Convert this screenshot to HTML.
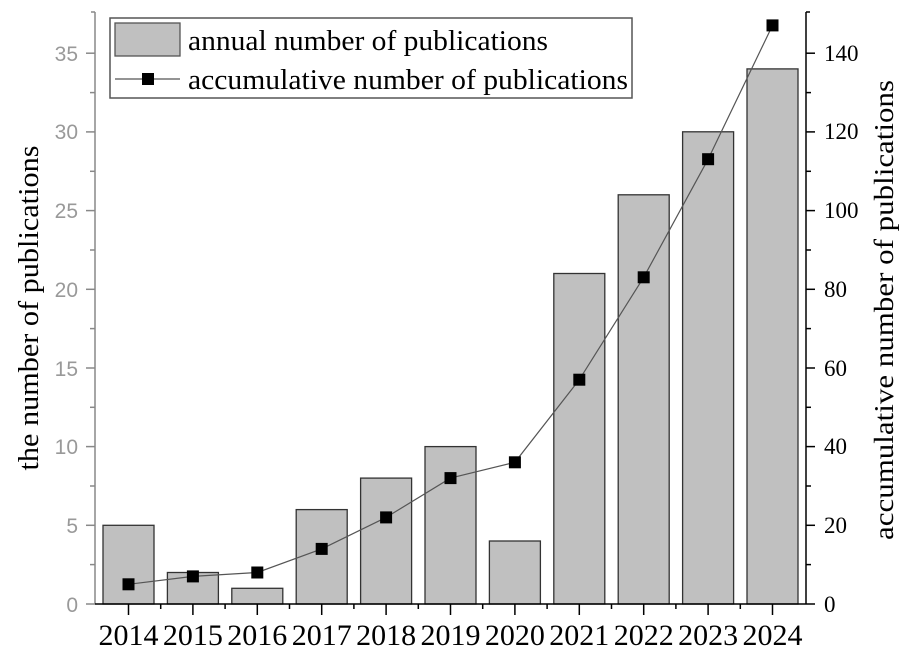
<!DOCTYPE html>
<html><head><style>body{margin:0;background:#fff}svg{display:block}</style></head><body>
<svg width="907" height="658" xmlns="http://www.w3.org/2000/svg">
<rect width="907" height="658" fill="#fff"/>
<g fill="#c0c0c0" stroke="#333" stroke-width="1.3">
<rect x="103" y="525.3" width="51" height="78.7"/>
<rect x="167.4" y="572.5" width="51" height="31.5"/>
<rect x="231.8" y="588.3" width="51" height="15.7"/>
<rect x="296.2" y="509.6" width="51" height="94.4"/>
<rect x="360.6" y="478.1" width="51" height="125.9"/>
<rect x="425" y="446.6" width="51" height="157.4"/>
<rect x="489.4" y="541" width="51" height="63"/>
<rect x="553.8" y="273.5" width="51" height="330.5"/>
<rect x="618.2" y="194.8" width="51" height="409.2"/>
<rect x="682.6" y="131.8" width="51" height="472.2"/>
<rect x="747" y="68.9" width="51" height="535.1"/>
</g>
<polyline fill="none" stroke="#555" stroke-width="1.2" points="128.5,584.3 192.9,576.4 257.3,572.5 321.7,548.9 386.1,517.4 450.5,478.1 514.9,462.3 579.3,379.7 643.7,277.3 708.1,159.2 772.5,25.4"/>
<g fill="#000">
<rect x="122.5" y="578.3" width="12" height="12"/><rect x="186.9" y="570.4" width="12" height="12"/><rect x="251.3" y="566.5" width="12" height="12"/><rect x="315.7" y="542.9" width="12" height="12"/><rect x="380.1" y="511.4" width="12" height="12"/><rect x="444.5" y="472.1" width="12" height="12"/><rect x="508.9" y="456.3" width="12" height="12"/><rect x="573.3" y="373.7" width="12" height="12"/><rect x="637.7" y="271.3" width="12" height="12"/><rect x="702.1" y="153.2" width="12" height="12"/><rect x="766.5" y="19.4" width="12" height="12"/>
</g>
<g stroke="#888" stroke-width="1.5">
<line x1="95" y1="12" x2="95" y2="604"/><line x1="91" y1="12" x2="95" y2="12"/>
<line x1="86" y1="604" x2="95" y2="604"/><line x1="86" y1="525.3" x2="95" y2="525.3"/><line x1="86" y1="446.6" x2="95" y2="446.6"/><line x1="86" y1="368" x2="95" y2="368"/><line x1="86" y1="289.3" x2="95" y2="289.3"/><line x1="86" y1="210.6" x2="95" y2="210.6"/><line x1="86" y1="131.9" x2="95" y2="131.9"/><line x1="86" y1="53.2" x2="95" y2="53.2"/>
<line x1="90" y1="564.6" x2="95" y2="564.6"/><line x1="90" y1="486" x2="95" y2="486"/><line x1="90" y1="407.3" x2="95" y2="407.3"/><line x1="90" y1="328.6" x2="95" y2="328.6"/><line x1="90" y1="250" x2="95" y2="250"/><line x1="90" y1="171.3" x2="95" y2="171.3"/><line x1="90" y1="92.6" x2="95" y2="92.6"/>
</g>
<g fill="#999" font-family="Liberation Sans, sans-serif" font-size="21" text-anchor="end">
<text x="78" y="612">0</text><text x="78" y="533">5</text><text x="78" y="454">10</text><text x="78" y="376">15</text><text x="78" y="297">20</text><text x="78" y="218">25</text><text x="78" y="139">30</text><text x="78" y="61">35</text>
</g>
<g stroke="#000" stroke-width="1.5">
<line x1="806" y1="12" x2="806" y2="604"/><line x1="806" y1="12" x2="810" y2="12"/>
<line x1="806" y1="604" x2="815" y2="604"/><line x1="806" y1="525.3" x2="815" y2="525.3"/><line x1="806" y1="446.6" x2="815" y2="446.6"/><line x1="806" y1="368" x2="815" y2="368"/><line x1="806" y1="289.3" x2="815" y2="289.3"/><line x1="806" y1="210.6" x2="815" y2="210.6"/><line x1="806" y1="131.9" x2="815" y2="131.9"/><line x1="806" y1="53.2" x2="815" y2="53.2"/>
<line x1="806" y1="564.6" x2="811" y2="564.6"/><line x1="806" y1="486" x2="811" y2="486"/><line x1="806" y1="407.3" x2="811" y2="407.3"/><line x1="806" y1="328.6" x2="811" y2="328.6"/><line x1="806" y1="250" x2="811" y2="250"/><line x1="806" y1="171.3" x2="811" y2="171.3"/><line x1="806" y1="92.6" x2="811" y2="92.6"/>
</g>
<g fill="#000" font-family="Liberation Serif, serif" font-size="23">
<text x="824" y="612">0</text><text x="824" y="533">20</text><text x="824" y="454">40</text><text x="824" y="376">60</text><text x="824" y="297">80</text><text x="824" y="218">100</text><text x="824" y="139">120</text><text x="824" y="61">140</text>
</g>
<g stroke="#000" stroke-width="1.5">
<line x1="95" y1="604" x2="806" y2="604"/>
<line x1="128.5" y1="604" x2="128.5" y2="615"/><line x1="192.9" y1="604" x2="192.9" y2="615"/><line x1="257.3" y1="604" x2="257.3" y2="615"/><line x1="321.7" y1="604" x2="321.7" y2="615"/><line x1="386.1" y1="604" x2="386.1" y2="615"/><line x1="450.5" y1="604" x2="450.5" y2="615"/><line x1="514.9" y1="604" x2="514.9" y2="615"/><line x1="579.3" y1="604" x2="579.3" y2="615"/><line x1="643.7" y1="604" x2="643.7" y2="615"/><line x1="708.1" y1="604" x2="708.1" y2="615"/><line x1="772.5" y1="604" x2="772.5" y2="615"/>
<line x1="160.7" y1="604" x2="160.7" y2="609"/><line x1="225.1" y1="604" x2="225.1" y2="609"/><line x1="289.5" y1="604" x2="289.5" y2="609"/><line x1="353.9" y1="604" x2="353.9" y2="609"/><line x1="418.3" y1="604" x2="418.3" y2="609"/><line x1="482.7" y1="604" x2="482.7" y2="609"/><line x1="547.1" y1="604" x2="547.1" y2="609"/><line x1="611.5" y1="604" x2="611.5" y2="609"/><line x1="675.9" y1="604" x2="675.9" y2="609"/><line x1="740.3" y1="604" x2="740.3" y2="609"/>
</g>
<g fill="#000" font-family="Liberation Serif, serif" font-size="30" text-anchor="middle">
<text x="128.5" y="645">2014</text><text x="192.9" y="645">2015</text><text x="257.3" y="645">2016</text><text x="321.7" y="645">2017</text><text x="386.1" y="645">2018</text><text x="450.5" y="645">2019</text><text x="514.9" y="645">2020</text><text x="579.3" y="645">2021</text><text x="643.7" y="645">2022</text><text x="708.1" y="645">2023</text><text x="772.5" y="645">2024</text>
</g>
<text transform="translate(38,308) rotate(-90)" font-family="Liberation Serif, serif" font-size="29" text-anchor="middle" textLength="325" lengthAdjust="spacingAndGlyphs">the number of publications</text>
<text transform="translate(893,310) rotate(-90)" font-family="Liberation Serif, serif" font-size="27" text-anchor="middle" textLength="460" lengthAdjust="spacingAndGlyphs">accumulative number of publications</text>
<rect x="110" y="18" width="522" height="80" fill="#fff" stroke="#555" stroke-width="1.5"/>
<rect x="115" y="23" width="65" height="33" fill="#c0c0c0" stroke="#555" stroke-width="1.3"/>
<line x1="115" y1="79" x2="180" y2="79" stroke="#555" stroke-width="1.2"/>
<rect x="142" y="73" width="12" height="12" fill="#000"/>
<g font-family="Liberation Serif, serif" font-size="28" fill="#000">
<text x="188" y="50" textLength="360" lengthAdjust="spacingAndGlyphs">annual number of publications</text>
<text x="188" y="89" textLength="440" lengthAdjust="spacingAndGlyphs">accumulative number of publications</text>
</g>
</svg>
</body></html>
